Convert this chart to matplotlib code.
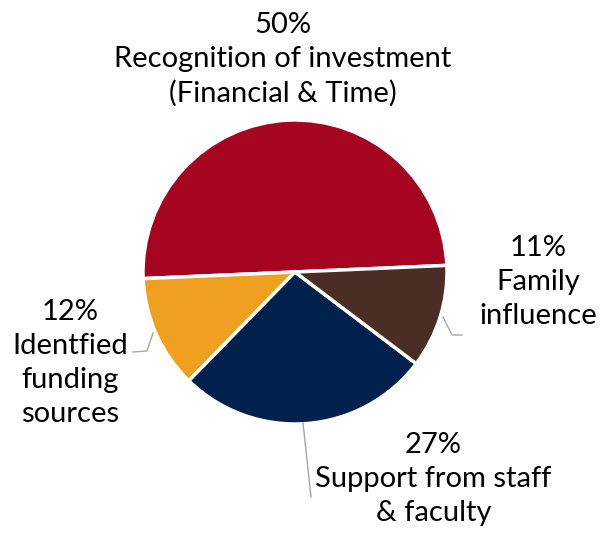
import matplotlib
matplotlib.use("Agg")
import matplotlib.pyplot as plt

labels = ["Recognition of investment\n(Financial & Time)", "Identfied\nfunding\nsources",
          "Support from staff\n& faculty", "Family\ninfluence"]
values = [50, 12, 27, 11]
colors = ["#A50521", "#F0A020", "#00214B", "#4A2E25"]

plt.rcParams["font.family"] = ["Lato", "DejaVu Sans"]

W, H = 613, 533
fig = plt.figure(figsize=(W / 100, H / 100), dpi=100)
cx, cy, r = 295, 272, 152
ax = fig.add_axes([(cx - r) / W, (H - cy - r) / H, 2 * r / W, 2 * r / H])
ax.pie(values, colors=colors, startangle=2.5, counterclock=True, radius=1,
       wedgeprops=dict(edgecolor="white", linewidth=2.5))
ax.set_xlim(-1, 1)
ax.set_ylim(-1, 1)
ax.set_aspect("equal")
ax.axis("off")

# label positions (data units, pie radius = 1)
pos = [(-0.08, 1.40), (-1.48, -0.60), (0.91, -1.36), (1.60, -0.066)]
for v, lab, (x, y) in zip(values, labels, pos):
    ax.text(x, y, f"{v}%\n{lab}", ha="center", va="center", fontsize=21,
            linespacing=1.38, clip_on=False)

# leader lines
def px(x, y):
    return ((x - cx) / r, (cy - y) / r)

leaders = [
    [(153, 333), (147, 351), (133, 352)],
    [(443, 317), (452, 335), (462, 335)],
    [(303, 423), (311, 497)],
]
for pts in leaders:
    xs, ys = zip(*[px(*p) for p in pts])
    ax.plot(xs, ys, color="#A6A6A6", lw=1, clip_on=False)

fig.savefig("out.png", dpi=100)
